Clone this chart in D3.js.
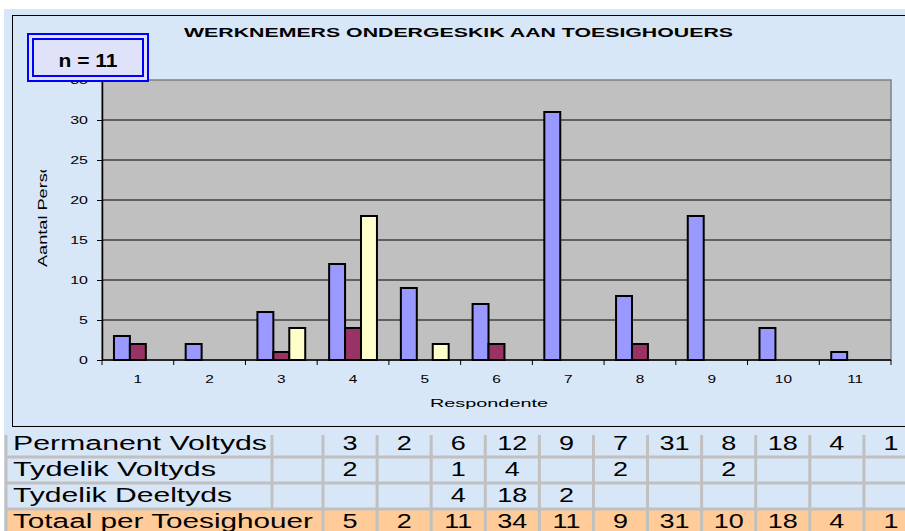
<!DOCTYPE html>
<html>
<head>
<meta charset="utf-8">
<script src="https://cdn.jsdelivr.net/npm/d3@7"></script>
<style>
  body { margin: 0; background: #ffffff; }
  svg text { font-family: Arial, "Liberation Sans", sans-serif; }
</style>
</head>
<body>
<div id="chart"></div>
<script>
// chart data
let categories = ['1', '2', '3', '4', '5', '6', '7', '8', '9', '10', '11'];
let seriesNames = ['Permanent Voltyds', 'Tydelik Voltyds', 'Tydelik Deeltyds'];
let permanentVoltyds = [3, 2, 6, 12, 9, 7, 31, 8, 18, 4, 1];
let tydelikVoltyds = [2, null, 1, 4, null, 2, null, 2, null, null, null];
let tydelikDeeltyds = [null, null, 4, 18, 2, null, null, null, null, null, null];
let totaal = [5, 2, 11, 34, 11, 9, 31, 10, 18, 4, 1];
let yTicks = [0, 5, 10, 15, 20, 25, 30, 35];
let tableRows = ['Permanent Voltyds', 'Tydelik Voltyds', 'Tydelik Deeltyds', 'Totaal per Toesighouer'];
let labelWidths = [254, 203, 219, 300];

let seriesData = [permanentVoltyds, tydelikVoltyds, tydelikDeeltyds];
let seriesColors = ['#9999ff', '#993366', '#ffffcc'];

let svgWidth = 905;
let svgHeight = 531;

let plot = { left: 102, right: 891, top: 80, bottom: 360 };

let svg = d3.select('#chart').append('svg')
  .attr('width', svgWidth)
  .attr('height', svgHeight);

// page background
svg.append('rect')
  .attr('x', 4).attr('y', 9)
  .attr('width', svgWidth).attr('height', svgHeight)
  .attr('fill', '#d8e7f8');

// chart frame
svg.append('rect')
  .attr('x', 12.5).attr('y', 15.5)
  .attr('width', 900).attr('height', 411)
  .attr('fill', 'none')
  .attr('stroke', '#000')
  .attr('stroke-width', 1);

// scales
let xScale = d3.scaleBand()
  .domain(categories)
  .range([plot.left, plot.right]);

let groupWidth = xScale.bandwidth() / 1.5;
let xSub = d3.scaleBand()
  .domain(d3.range(seriesNames.length))
  .range([0, groupWidth]);

let yScale = d3.scaleLinear()
  .domain([0, 35])
  .range([plot.bottom, plot.top]);

// plot area
svg.append('rect')
  .attr('x', plot.left).attr('y', plot.top)
  .attr('width', plot.right - plot.left)
  .attr('height', plot.bottom - plot.top)
  .attr('fill', '#c0c0c0')
  .attr('stroke', '#808080')
  .attr('stroke-width', 1.5);

// gridlines
svg.append('g')
  .selectAll('line')
  .data(yTicks.filter(d => d > 0 && d < 35))
  .enter()
  .append('line')
  .attr('x1', plot.left).attr('x2', plot.right)
  .attr('y1', d => yScale(d)).attr('y2', d => yScale(d))
  .attr('stroke', '#000')
  .attr('stroke-width', 1);

// bars
seriesData.forEach(function(values, si) {
  svg.append('g')
    .selectAll('rect')
    .data(values.map((v, i) => ({ cat: categories[i], value: v })).filter(d => d.value !== null))
    .enter()
    .append('rect')
    .attr('x', d => xScale(d.cat) + (xScale.bandwidth() - groupWidth) / 2 + xSub(si))
    .attr('y', d => yScale(d.value))
    .attr('width', xSub.bandwidth())
    .attr('height', d => yScale(0) - yScale(d.value))
    .attr('fill', seriesColors[si])
    .attr('stroke', '#000')
    .attr('stroke-width', 2);
});

// y axis
let yAxis = svg.append('g')
  .attr('transform', `translate(${plot.left}, 0)`)
  .call(d3.axisLeft(yScale).tickValues(yTicks).tickSize(5).tickSizeOuter(0));
yAxis.select('.domain').attr('stroke', '#000').attr('stroke-width', 1.5);
yAxis.selectAll('.tick line').attr('stroke', '#000');
yAxis.selectAll('.tick text')
  .attr('x', -9.7)
  .attr('dy', '0.35em')
  .attr('transform', 'scale(1.45,1)')
  .attr('font-size', '11px')
  .attr('fill', '#000');

// x axis
let xAxis = svg.append('g')
  .attr('transform', `translate(0, ${plot.bottom})`);
xAxis.append('line')
  .attr('x1', plot.left).attr('x2', plot.right)
  .attr('stroke', '#000').attr('stroke-width', 1.5);
xAxis.selectAll('.xtick')
  .data(categories.map(c => xScale(c)).concat([plot.right]))
  .enter()
  .append('line')
  .attr('x1', d => d).attr('x2', d => d)
  .attr('y1', 0).attr('y2', 5)
  .attr('stroke', '#000');
xAxis.selectAll('.xlabel')
  .data(categories)
  .enter()
  .append('text')
  .attr('transform', d => `translate(${xScale(d) + xScale.bandwidth() / 2}, 23) scale(1.4,1)`)
  .attr('text-anchor', 'middle')
  .attr('font-size', '11px')
  .text(d => d);

// axis titles
svg.append('text')
  .attr('x', 430).attr('y', 407)
  .attr('font-size', '11.5px')
  .attr('textLength', 118)
  .attr('lengthAdjust', 'spacingAndGlyphs')
  .text('Respondente');

svg.append('clipPath').attr('id', 'ylabclip')
  .append('rect').attr('x', 20).attr('y', 170).attr('width', 40).attr('height', 120);
svg.append('g').attr('clip-path', 'url(#ylabclip)')
  .append('text')
  .attr('transform', 'translate(47, 267) rotate(-90)')
  .attr('font-size', '12px')
  .attr('textLength', 124)
  .attr('lengthAdjust', 'spacingAndGlyphs')
  .text('Aantal Persone');

// chart title
svg.append('text')
  .attr('x', 184).attr('y', 37)
  .attr('font-size', '12px')
  .attr('font-weight', 'bold')
  .attr('textLength', 549)
  .attr('lengthAdjust', 'spacingAndGlyphs')
  .text('WERKNEMERS ONDERGESKIK AAN TOESIGHOUERS');

// n = 11 box
svg.append('rect')
  .attr('x', 28).attr('y', 34).attr('width', 120).attr('height', 47)
  .attr('fill', '#dfe2f8').attr('stroke', '#0000ff').attr('stroke-width', 2);
svg.append('rect')
  .attr('x', 33).attr('y', 39).attr('width', 110).attr('height', 37)
  .attr('fill', 'none').attr('stroke', '#0000ff').attr('stroke-width', 2);
svg.append('text')
  .attr('x', 88).attr('y', 67)
  .attr('text-anchor', 'middle')
  .attr('font-size', '18px')
  .attr('font-weight', 'bold')
  .attr('textLength', 59)
  .attr('lengthAdjust', 'spacingAndGlyphs')
  .text('n = 11');

// data table under the chart
let colScale = d3.scaleBand()
  .domain(categories)
  .range([323, 918]);
let rowScale = d3.scaleBand()
  .domain(tableRows)
  .range([431, 535]);

let table = svg.append('g');
let totalRow = tableRows[3];
table.append('rect')
  .attr('x', 7).attr('y', rowScale(totalRow))
  .attr('width', svgWidth).attr('height', rowScale.bandwidth())
  .attr('fill', '#ffcc99');

// table grid
let gridColor = '#c0c0c0';
tableRows.slice(1).forEach(function(r) {
  table.append('line')
    .attr('x1', 5).attr('x2', svgWidth)
    .attr('y1', rowScale(r)).attr('y2', rowScale(r))
    .attr('stroke', gridColor).attr('stroke-width', 3);
});
table.append('line')
  .attr('x1', 6).attr('x2', 6)
  .attr('y1', 435).attr('y2', svgHeight)
  .attr('stroke', gridColor).attr('stroke-width', 3);
table.append('line')
  .attr('x1', 272).attr('x2', 272)
  .attr('y1', 435).attr('y2', rowScale(totalRow))
  .attr('stroke', gridColor).attr('stroke-width', 3);
categories.forEach(function(c) {
  table.append('line')
    .attr('x1', colScale(c)).attr('x2', colScale(c))
    .attr('y1', 435).attr('y2', svgHeight)
    .attr('stroke', gridColor).attr('stroke-width', 3);
});

// row labels
tableRows.forEach(function(r, i) {
  table.append('text')
    .attr('x', 13).attr('y', rowScale(r) + 18.5)
    .attr('font-size', '20px')
    .attr('textLength', labelWidths[i])
    .attr('lengthAdjust', 'spacingAndGlyphs')
    .text(r);
});

// cell values
let tableData = [permanentVoltyds, tydelikVoltyds, tydelikDeeltyds, totaal];
tableData.forEach(function(values, ri) {
  table.selectAll('.cell' + ri)
    .data(values.map((v, i) => ({ cat: categories[i], value: v })).filter(d => d.value !== null))
    .enter()
    .append('text')
    .attr('transform', d => `translate(${colScale(d.cat) + colScale.bandwidth() / 2}, ${rowScale(tableRows[ri]) + 18.5}) scale(1.35,1)`)
    .attr('text-anchor', 'middle')
    .attr('font-size', '20px')
    .text(d => d.value);
});
</script>
</body>
</html>
